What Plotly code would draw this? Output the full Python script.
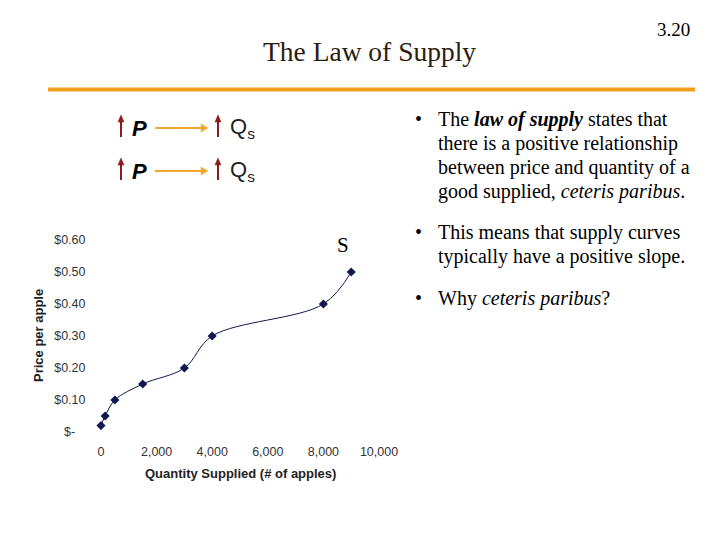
import plotly.graph_objects as go

# supply schedule
qty = [0, 150, 500, 1500, 3000, 4000, 8000, 9000]
price = [0.02, 0.05, 0.10, 0.15, 0.20, 0.30, 0.40, 0.50]

x_ticks = [0, 2000, 4000, 6000, 8000, 10000]
x_labels = ["0", "2,000", "4,000", "6,000", "8,000", "10,000"]
y_ticks = [0, 0.1, 0.2, 0.3, 0.4, 0.5, 0.6]
y_labels = ["$-&nbsp;&nbsp;&nbsp;", "$0.10", "$0.20", "$0.30", "$0.40", "$0.50", "$0.60"]

bullets = [
    ["The <b><i>law of supply</i></b> states that", "there is a positive relationship",
     "between price and quantity of a", "good supplied, <i>ceteris paribus</i>."],
    ["This means that supply curves", "typically have a positive slope."],
    ["Why <i>ceteris paribus</i>?"],
]

# the page puts the figure 8px in from the corner, so work in slide pixels
OFF = 8
W, H = 720 - OFF, 540 - OFF


def px(x):
    return (x - OFF) / W


def py(y):
    return 1 - (y - OFF) / H


fig = go.Figure()
fig.add_trace(go.Scatter(
    x=qty, y=price, mode="lines+markers", line_shape="spline",
    line=dict(color="#101850", width=1),
    marker=dict(symbol="diamond", size=7, color="#101850"),
    cliponaxis=False, showlegend=False,
))

tick_font = dict(family="Liberation Sans, Arial", size=12.5, color="#333333")
fig.update_xaxes(
    range=[0, 10000], domain=[px(101), px(379)], showgrid=False, zeroline=False,
    showline=False, tickvals=x_ticks, ticktext=x_labels, tickfont=tick_font,
    ticks="outside", ticklen=8, tickcolor="rgba(0,0,0,0)", automargin=False,
)
fig.update_yaxes(
    range=[0, 0.6], domain=[py(432), py(240)], showgrid=False, zeroline=False,
    showline=False, tickvals=y_ticks, ticktext=y_labels, tickfont=tick_font,
    ticks="outside", ticklen=12, tickcolor="rgba(0,0,0,0)", automargin=False,
)

ann = []
serif = "Liberation Serif, Times New Roman"
sans = "Liberation Sans, Arial"


def note(x, y, text, **kw):
    d = dict(x=px(x), y=py(y), xref="paper", yref="paper", text=text, showarrow=False,
             xanchor="center", yanchor="middle")
    d.update(kw)
    ann.append(d)


note(369, 52, "The Law of Supply", font=dict(family=serif, size=27.5, color="#2b1d0e"))
note(673, 29, "3.20", font=dict(family=serif, size=19, color="black"))
note(343, 245, "S", font=dict(family=serif, size=21, color="black"))
note(240, 473, "<b>Quantity Supplied (# of apples)</b>", font=dict(family=sans, size=13, color="#222"))
note(38, 336, "<b>Price per apple</b>", textangle=-90, font=dict(family=sans, size=13, color="#222"))

# bullet list, one annotation per line to keep the 24px leading
bullet_y = [119, 232, 298]
for y0, lines in zip(bullet_y, bullets):
    note(413, y0, "•", xanchor="left", font=dict(family=serif, size=20, color="black"))
    for i, line in enumerate(lines):
        note(436, y0 + 24 * i, line, xanchor="left", font=dict(family=serif, size=20, color="black"))

# arrow diagram: up P -> up Qs
shapes = [dict(type="line", xref="paper", yref="paper", x0=px(48), x1=px(695),
               y0=py(89.5), y1=py(89.5), line=dict(color="#f0a020", width=4))]


def path(points):
    return "M " + " L ".join(f"{px(a):.5f},{py(b):.5f}" for a, b in points) + " Z"


red, orange = "#8b1c1c", "#f0a830"
for yc in [127, 170]:
    for xa in [121, 218]:
        shapes.append(dict(type="line", xref="paper", yref="paper", x0=px(xa), x1=px(xa),
                           y0=py(yc + 10), y1=py(yc - 6), line=dict(color=red, width=2)))
        shapes.append(dict(type="path", xref="paper", yref="paper", fillcolor=red,
                           line=dict(color=red, width=0.5),
                           path=path([(xa - 3, yc - 5), (xa + 3, yc - 5), (xa, yc - 12)])))
    shapes.append(dict(type="line", xref="paper", yref="paper", x0=px(155), x1=px(202),
                       y0=py(yc + 1), y1=py(yc + 1), line=dict(color=orange, width=2)))
    shapes.append(dict(type="path", xref="paper", yref="paper", fillcolor=orange,
                       line=dict(color=orange, width=0.5),
                       path=path([(201, yc - 3), (201, yc + 5), (208, yc + 1)])))
    note(130, yc + 1, "<b><i>P</i></b>", xanchor="left", font=dict(family=sans, size=22, color="black"))
    note(228, yc + 1, "Q<sub>s</sub>", xanchor="left", font=dict(family=sans, size=22, color="#222"))

fig.update_layout(
    width=W, height=H, margin=dict(l=0, r=0, t=0, b=0, autoexpand=False),
    paper_bgcolor="white", plot_bgcolor="white", annotations=ann, shapes=shapes,
)

fig.write_html("out.html")
